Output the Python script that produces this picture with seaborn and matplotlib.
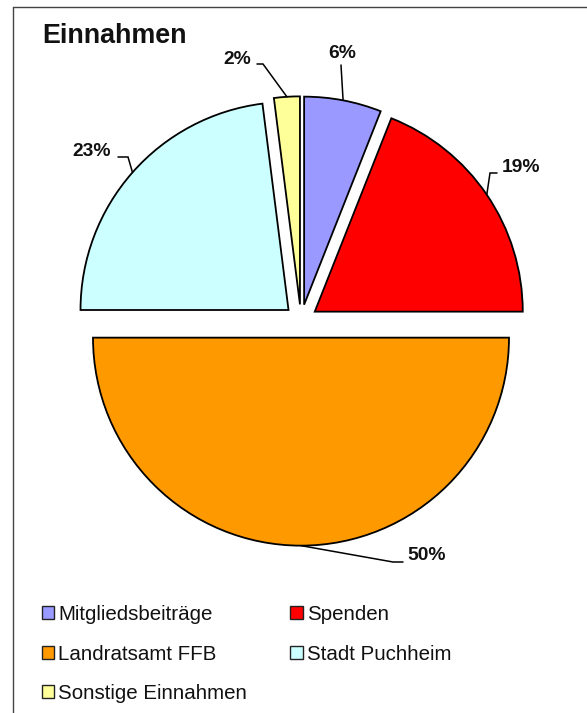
import numpy as np
import matplotlib
matplotlib.use("Agg")
import matplotlib.pyplot as plt
from matplotlib.patches import Patch
from matplotlib.lines import Line2D
import seaborn as sns

# ---- data ----
categories = ["Mitgliedsbeiträge", "Spenden", "Landratsamt FFB", "Stadt Puchheim", "Sonstige Einnahmen"]
values = [6, 19, 50, 23, 2]
pct_labels = ["6%", "19%", "50%", "23%", "2%"]
colors = ["#9999FF", "#FF0000", "#FF9900", "#CCFFFF", "#FFFF99"]
title = "Einnahmen"

sns.set_theme(style="white")
plt.rcParams['font.family'] = ['Liberation Sans', 'DejaVu Sans']

W, H = 587, 713
fig = plt.figure(figsize=(W / 100, H / 100), dpi=100)
ax = fig.add_axes([0, 0, 1, 1])

# pixel -> data mapping (pie centre and radius in pixels)
CX, CY, R = 301, 321, 208
def px(x, y):
    return ((x - CX) / R, (CY - y) / R)

wedges, _ = ax.pie(values, colors=colors, startangle=90, counterclock=False,
                   explode=[0.08] * len(values), radius=1,
                   wedgeprops=dict(edgecolor="black", linewidth=1.3))
ax.set_xlim(px(0, 0)[0], px(W, 0)[0])
ax.set_ylim(px(0, H)[1], px(0, 0)[1])
ax.set_aspect("auto")
ax.axis("off")

# label layout (pixel positions): text centre, then leader points from label side
label_layout = [
    ((342, 54), [(341, 65)]),
    ((521, 167), [(497, 173), (490, 173)]),
    ((427, 555), [(403, 562), (393, 562)]),
    ((92, 151), [(118, 157), (128, 157)]),
    ((237, 60), [(257, 64), (263, 64)]),
]
for w, lab, (tpos, pts) in zip(wedges, pct_labels, label_layout):
    mid = np.deg2rad((w.theta1 + w.theta2) / 2)
    ax_ = w.center[0] + w.r * np.cos(mid)
    ay_ = w.center[1] + w.r * np.sin(mid)
    path = [px(*p) for p in pts] + [(ax_, ay_)]
    xs, ys = zip(*path)
    ax.plot(xs, ys, color="black", lw=1.1, solid_joinstyle="miter")
    tx, ty = px(*tpos)
    ax.text(tx, ty, lab, ha="center", va="center", fontsize=13.9,
            fontweight="bold", color="#111111")

# title
fig.text(42 / W, 1 - 43 / H, title, fontsize=19.4, fontweight="bold",
         ha="left", va="baseline", color="#111111")

# frame lines (top and left)
fig.add_artist(Line2D([13 / W, 1], [1 - 7 / H, 1 - 7 / H], color="#444444", lw=1.0,
                      transform=fig.transFigure))
fig.add_artist(Line2D([13 / W, 13 / W], [0, 1 - 7 / H], color="#444444", lw=1.0,
                      transform=fig.transFigure))

# legend (column-first ordering to get row layout of reference)
handles = [Patch(facecolor=c, edgecolor="#222222", linewidth=1.0) for c in colors]
order = [0, 2, 4, 1, 3]
leg = fig.legend([handles[i] for i in order], [categories[i] for i in order],
                 ncol=2, loc="upper left", bbox_to_anchor=(42 / W, 1 - 605 / H),
                 frameon=False, fontsize=14.8, handlelength=0.6, handleheight=0.6,
                 handletextpad=0.2, columnspacing=2.1, labelspacing=1.0,
                 borderpad=0, borderaxespad=0)
for t in leg.get_texts():
    t.set_color("#111111")

fig.savefig("out.png", dpi=100)
